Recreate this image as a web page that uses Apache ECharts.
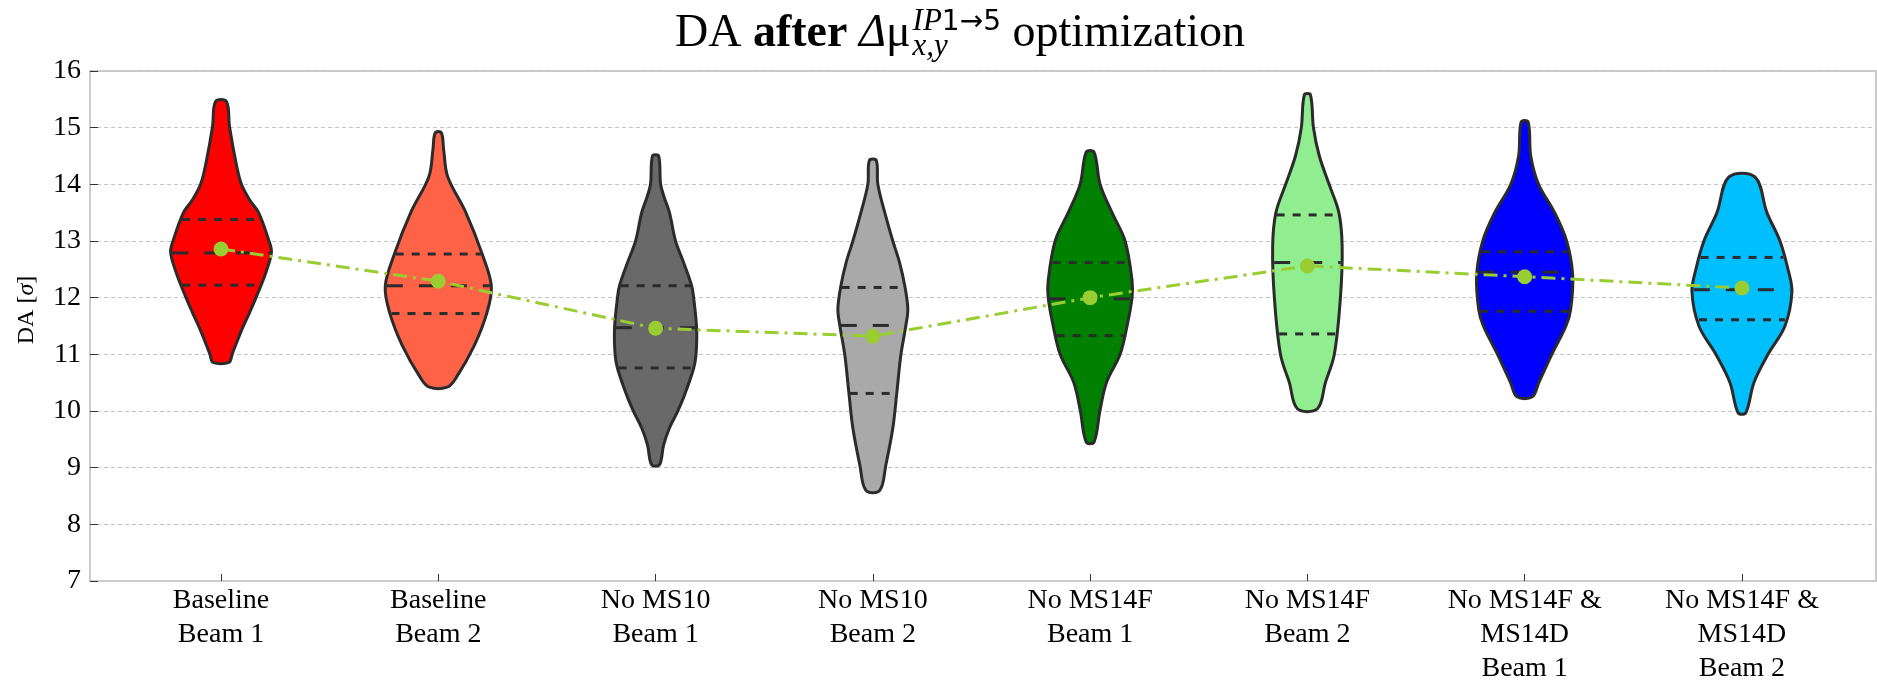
<!DOCTYPE html>
<html>
<head>
<meta charset="utf-8">
<title>DA after optimization</title>
<script src="https://cdn.jsdelivr.net/npm/echarts@6/dist/echarts.min.js"></script>
<style>
  html, body { margin: 0; padding: 0; background: #ffffff; }
  #chart { width: 1877px; height: 686px; }
</style>
</head>
<body>
<div id="chart"></div>
<script>
// ---- data -------------------------------------------------------------
const categories = [
  'Baseline\nBeam 1', 'Baseline\nBeam 2',
  'No MS10\nBeam 1', 'No MS10\nBeam 2',
  'No MS14F\nBeam 1', 'No MS14F\nBeam 2',
  'No MS14F &\nMS14D\nBeam 1', 'No MS14F &\nMS14D\nBeam 2'
];
const yTicks = [7, 8, 9, 10, 11, 12, 13, 14, 15, 16];

// mean DA per configuration (connected by the dash-dot line)
const means   = [12.86, 12.29, 11.46, 11.32, 12.00, 12.56, 12.37, 12.17];
// quartiles of each distribution
const q1      = [12.22, 11.72, 10.76, 10.31, 11.33, 11.36, 11.76, 11.61];
const medians = [12.79, 12.21, 11.47, 11.51, 11.98, 12.62, 12.45, 12.14];
const q3      = [13.38, 12.77, 12.21, 12.18, 12.62, 13.46, 12.81, 12.71];

// violin outlines: [DA value, half width in category units], top to bottom
const baselineB1 = [[15.46,0.025],[15.02,0.039],[14.38,0.069],[14.0,0.094],[13.72,0.133],[13.5,0.173],[13.0,0.221],[12.8,0.232],[12.45,0.207],[12.0,0.161],[11.75,0.133],[11.4,0.092],[11.0,0.051],[10.86,0.037]];
const baselineB2 = [[14.91,0.014],[14.6,0.025],[14.14,0.043],[13.5,0.127],[12.77,0.202],[12.21,0.244],[11.75,0.225],[11.16,0.166],[10.58,0.081],[10.42,0.041]];
const noMS10B1   = [[14.50,0.014],[14.01,0.023],[13.79,0.038],[13.5,0.064],[13.0,0.092],[12.62,0.129],[12.21,0.166],[12.01,0.175],[11.45,0.189],[10.99,0.186],[10.75,0.175],[10.28,0.133],[9.99,0.101],[9.70,0.064],[9.4,0.037],[9.05,0.018]];
const noMS10B2   = [[14.42,0.016],[14.0,0.023],[13.5,0.055],[13.0,0.092],[12.62,0.123],[12.21,0.147],[11.80,0.161],[11.51,0.152],[10.99,0.129],[10.31,0.110],[9.70,0.092],[9.05,0.060],[8.60,0.032]];
const noMS14FB1  = [[14.57,0.018],[14.0,0.046],[13.5,0.101],[13.0,0.161],[12.3,0.193],[12.0,0.193],[11.5,0.170],[11.0,0.138],[10.5,0.075],[10.0,0.045],[9.45,0.018]];
const noMS14FB2  = [[15.58,0.014],[15.0,0.028],[14.5,0.055],[14.0,0.100],[13.5,0.145],[12.9,0.160],[12.0,0.152],[11.0,0.124],[10.5,0.083],[10.04,0.046]];
const noMS14FDB1 = [[15.1,0.016],[14.5,0.028],[14.0,0.064],[13.5,0.138],[13.0,0.193],[12.4,0.221],[11.8,0.212],[11.5,0.190],[11.0,0.125],[10.5,0.065],[10.25,0.035]];
const noMS14FDB2 = [[14.13,0.060],[13.5,0.115],[13.0,0.175],[12.5,0.212],[12.1,0.230],[11.5,0.198],[11.0,0.120],[10.5,0.055],[9.97,0.018]];

const violinProfiles = [baselineB1, baselineB2, noMS10B1, noMS10B2, noMS14FB1, noMS14FB2, noMS14FDB1, noMS14FDB2];

// ---- styling ----------------------------------------------------------
const violinColors = ['#ff0000', '#ff6347', '#696969', '#a9a9a9', '#008000', '#90ee90', '#0000ff', '#00bfff'];
const edgeColor = '#2b2b2b';
const meanColor = '#9acd32';
const serif = '"Liberation Serif", "Times New Roman", serif';

// half width of a violin at a given DA value (linear between outline points)
function halfWidthAt(profile, v) {
  for (let k = 0; k < profile.length - 1; k++) {
    const [va, ha] = profile[k];
    const [vb, hb] = profile[k + 1];
    if (v <= va && v >= vb) {
      const t = (va - v) / (va - vb);
      return ha + (hb - ha) * t;
    }
  }
  return 0;
}

function renderViolin(params, api) {
  const i = api.value(0);
  const prof = violinProfiles[i];
  const right = prof.map(([v, h]) => api.coord([i + h, v]));
  const left = prof.slice().reverse().map(([v, h]) => api.coord([i - h, v]));
  const children = [{
    type: 'polygon',
    shape: { points: right.concat(left), smooth: 0.35 },
    style: { fill: violinColors[i], stroke: edgeColor, lineWidth: 3, lineJoin: 'round' }
  }];
  const inner = [[q1[i], [8, 8]], [medians[i], [16, 16]], [q3[i], [8, 8]]];
  inner.forEach(([v, dash]) => {
    const h = halfWidthAt(prof, v) * 0.97;
    const a = api.coord([i - h, v]);
    const b = api.coord([i + h, v]);
    children.push({
      type: 'line',
      shape: { x1: a[0], y1: a[1], x2: b[0], y2: b[1] },
      style: { stroke: edgeColor, lineWidth: 3, lineDash: dash }
    });
  });
  return { type: 'group', children: children };
}

// ---- title pieces (with stacked sub/superscript) ------------------------
function measure(text, font) {
  const c = measure.ctx || (measure.ctx = document.createElement('canvas').getContext('2d'));
  c.font = font;
  return c.measureText(text).width;
}
function buildTitle(centerX, baseline) {
  const big = 46, small = 31;
  const fBig = (w, s) => `${s || 'normal'} ${w || 'normal'} ${big}px ${serif}`;
  const pieces = [
    { text: 'DA ', font: fBig() },
    { text: 'after', font: fBig('bold') },
    { text: ' ', font: fBig() },
    { text: 'Δ', font: fBig('normal', 'italic') },
    { text: 'μ', font: fBig() }
  ];
  const supA = { text: 'IP', font: `italic normal ${small}px ${serif}` };
  const supB = { text: '1→5', font: `normal normal ${small - 3}px "DejaVu Sans", sans-serif` };
  const sub = { text: 'x,y', font: `italic normal ${small}px ${serif}` };
  const tail = { text: ' optimization', font: fBig() };

  let w = 0;
  pieces.forEach(p => { p.w = measure(p.text, p.font); w += p.w; });
  supA.w = measure(supA.text, supA.font);
  supB.w = measure(supB.text, supB.font);
  sub.w = measure(sub.text, sub.font);
  const scriptW = Math.max(supA.w + supB.w, sub.w) + 2;
  tail.w = measure(tail.text, tail.font);
  const total = w + scriptW + tail.w;

  const els = [];
  let x = centerX - total / 2;
  const mid = (b, size) => b - 0.34 * size;
  const add = (p, px, base, size) => els.push({
    type: 'text', x: px, y: mid(base, size),
    style: { text: p.text, font: p.font, fill: '#000', align: 'left', verticalAlign: 'middle' }
  });
  pieces.forEach(p => { add(p, x, baseline, big); x += p.w; });
  const sx = x + 2;
  add(supA, sx, baseline - 18, small);
  add(supB, sx + supA.w, baseline - 18, small - 3);
  add(sub, sx, baseline + 7, small);
  x += scriptW;
  add(tail, x, baseline, big);
  return els;
}

// ---- chart ------------------------------------------------------------
const chart = echarts.init(document.getElementById('chart'), null, { renderer: 'canvas' });

const option = {
  backgroundColor: '#ffffff',
  animation: false,
  grid: {
    left: 90, right: 1, top: 71, bottom: 102,
    show: true, borderColor: '#cccccc', borderWidth: 2, backgroundColor: 'transparent'
  },
  xAxis: {
    type: 'value',
    min: -0.603, max: 7.617,
    axisLine: { show: true, onZero: false, lineStyle: { color: '#cccccc', width: 2 } },
    axisTick: {
      show: true, inside: true, length: 7,
      customValues: categories.map((c, i) => i),
      lineStyle: { color: '#333333', width: 1 }
    },
    axisLabel: {
      show: true,
      customValues: categories.map((c, i) => i),
      formatter: v => categories[Math.round(v)],
      fontFamily: serif, fontSize: 28, color: '#000000', lineHeight: 34, margin: 3,
      verticalAlign: 'top', align: 'center'
    },
    splitLine: { show: false }
  },
  yAxis: {
    type: 'value',
    min: yTicks[0], max: yTicks[yTicks.length - 1], interval: 1,
    axisLine: { show: true, onZero: false, lineStyle: { color: '#cccccc', width: 2 } },
    axisTick: { show: true, inside: true, length: 8, lineStyle: { color: '#333333', width: 1 } },
    axisLabel: { fontFamily: serif, fontSize: 28, color: '#000000', margin: 9 },
    splitLine: { show: true, lineStyle: { color: '#c4c4c4', width: 1, type: [4, 3] } }
  },
  graphic: buildTitle(960, 50).concat([{
    type: 'text', x: 27, y: 310, rotation: Math.PI / 2,
    style: {
      text: 'DA [{s|σ}]', fill: '#000', align: 'center', verticalAlign: 'middle',
      font: `24px ${serif}`,
      rich: { s: { fontFamily: serif, fontSize: 24, fontStyle: 'italic' } }
    }
  }]),
  series: [
    {
      type: 'custom',
      renderItem: renderViolin,
      data: categories.map((c, i) => [i]),
      encode: { x: 0 },
      clip: false,
      z: 2
    },
    {
      type: 'line',
      data: means.map((m, i) => [i, m]),
      symbol: 'circle', symbolSize: 15,
      itemStyle: { color: meanColor },
      lineStyle: { color: meanColor, width: 3, type: [14, 6, 3, 6] },
      z: 5
    }
  ]
};
chart.setOption(option);
</script>
</body>
</html>
